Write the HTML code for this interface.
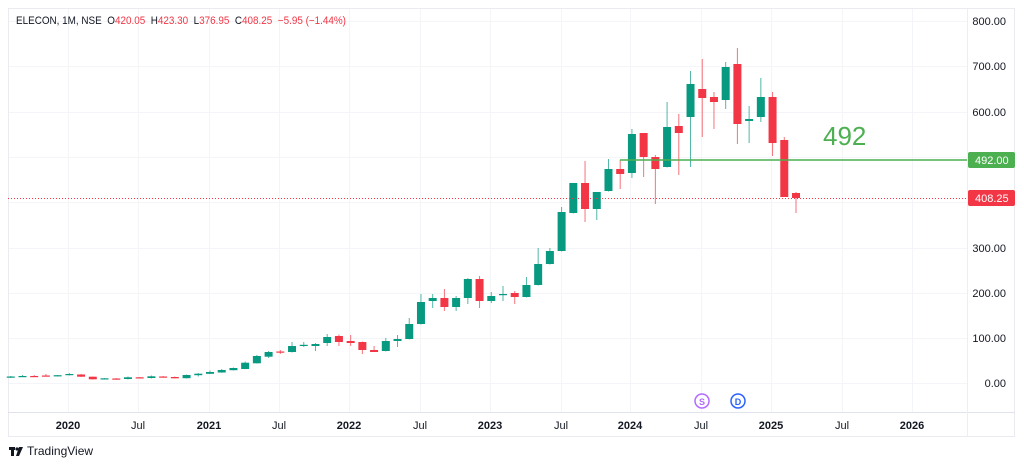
<!DOCTYPE html>
<html><head><meta charset="utf-8"><style>
body{margin:0;background:#fff;width:1024px;height:466px;overflow:hidden;font-family:"Liberation Sans",sans-serif}
</style></head><body>
<svg width="1024" height="466" xmlns="http://www.w3.org/2000/svg" font-family="Liberation Sans, sans-serif">
<g id="grid" stroke="#f3f5f9" stroke-width="1"></g>
<rect x="8.5" y="8.5" width="1006" height="428" fill="none" stroke="#e9ebf0"/>
<line x1="8" y1="412.5" x2="1015" y2="412.5" stroke="#e0e3eb"/>
<line x1="967.5" y1="8" x2="967.5" y2="437" stroke="#eceef2"/>
<g id="c"></g>
<line x1="8" y1="198.5" x2="967" y2="198.5" stroke="#f23645" stroke-width="1" stroke-dasharray="1,2"/>
<line x1="620" y1="160" x2="967" y2="160" stroke="#4caf50" stroke-width="1.5"/>
<text x="823" y="145" font-size="26" fill="#4caf50">492</text>
<g font-size="11" fill="#131722" id="pl"></g>
<rect x="968" y="152" width="47" height="16" rx="2" fill="#4caf50"/>
<text x="975" y="164" font-size="11" fill="#fff">492.00</text>
<rect x="968" y="190" width="47" height="16" rx="2" fill="#f23645"/>
<text x="975" y="202" font-size="11" fill="#fff">408.25</text>
<g font-size="11" fill="#131722" text-anchor="middle">
<text x="68" y="429" font-weight="bold">2020</text><text x="138" y="429">Jul</text>
<text x="209" y="429" font-weight="bold">2021</text><text x="279" y="429">Jul</text>
<text x="349" y="429" font-weight="bold">2022</text><text x="420" y="429">Jul</text>
<text x="490" y="429" font-weight="bold">2023</text><text x="561" y="429">Jul</text>
<text x="630" y="429" font-weight="bold">2024</text><text x="701" y="429">Jul</text>
<text x="771" y="429" font-weight="bold">2025</text><text x="842" y="429">Jul</text>
<text x="912" y="429" font-weight="bold">2026</text>
</g>
<circle cx="702" cy="401" r="7" fill="#fff" stroke="#b36bff" stroke-width="1.5"/>
<text x="702" y="405" font-size="9" fill="#b36bff" text-anchor="middle" font-weight="bold">S</text>
<circle cx="738" cy="401" r="7" fill="#fff" stroke="#2962ff" stroke-width="1.5"/>
<text x="738" y="405" font-size="9" fill="#2962ff" text-anchor="middle" font-weight="bold">D</text>
<text x="16" y="24" font-size="11" fill="#131722" xml:space="preserve" textLength="330" lengthAdjust="spacingAndGlyphs">ELECON, 1M, NSE  O<tspan fill="#f23645">420.05</tspan>  H<tspan fill="#f23645">423.30</tspan>  L<tspan fill="#f23645">376.95</tspan>  C<tspan fill="#f23645">408.25  −5.95 (−1.44%)</tspan></text>
<g fill="#131722"><rect x="9" y="447" width="6" height="3"/><rect x="11" y="447" width="3" height="9"/><circle cx="17" cy="449" r="1.6"/><polygon points="19,447 23,447 19,456 16,456"/></g>
<text x="27" y="455" font-size="12" fill="#131722">TradingView</text>
</svg>
<script>
var d=[[377,376,378,376.5],[376.5,375,377,376],[376,375,377,376.3],[375.5,374,376.5,375.8],[375.8,375,376.5,375.2],[375,373,375.5,374],[374.5,374,377,376.7],[376.7,376.5,379.5,379.3],[379,378,379.5,378.3],[378.5,378,379.5,379.2],[379,376.5,379.5,377.3],[377.3,377,378.5,378.2],[378,375.5,378.5,376.3],[376.5,376,377.5,377],[377,376.5,378.5,378.3],[378.2,374.5,378.5,375],[375.2,373,376.5,373.7],[373.8,370.5,374,372],[372.5,369,372.8,370],[370.2,367.5,370.5,368],[369,361.5,369.2,362.7],[363.3,355,363.5,356],[356.7,351,358,352],[351.5,350,354,352.3],[352,342,352.5,346],
[345.5,342,347,344.8],[346,343,351,344],[343,334,346,337],[336,334.5,346,342],[341,335,346,343],[342,341.5,354,350],[350,346,352,352],[351,338,351.5,341],[341,335,347,339],[339,318,339.5,324],[324,294,324.5,302],[301,294,308,298],[298,289,311,307],[307,296,311,298],[298,278,304,279],[279,276,308,301],[301,292,303,296],[295,286,301,294],[293,291,304,297],[297,277,297.5,285],[285,248,285.5,264],[264,248,264.5,251],
[251,207,251.5,212],[213,183,213.5,183],[183,161,222,209],[209,192,220,192],[191,159,191.5,169],[169,160,189,174],[173,129,178,134],[133,133,177,157],[157,155,204,169],[167,102,167.5,127],[126,114,175,133],[117,71,167,84],[89,59,137,98],[97,92,129,102],[100,62,109,67],[64,48,144,124],[121,106,143,119],[117,78,122,97],[97,92,156,143],[140,137,197,197],[193,192,213,198]];
var s='',n=d.length;
d.forEach(function(v,i){var x=796-11.72*(n-1-i);var up=v[3]<=v[0];var col=up?'#089981':'#f23645';var t=Math.min(v[0],v[3]),b=Math.max(v[0],v[3]);
s+='<line x1="'+x+'" x2="'+x+'" y1="'+v[1]+'" y2="'+v[2]+'" stroke="'+col+'" stroke-opacity="0.7" stroke-width="1"/>';
s+='<rect x="'+(x-4)+'" y="'+t+'" width="8" height="'+Math.max(b-t,1.2)+'" fill="'+col+'"/>';});
document.getElementById('c').innerHTML=s;
var g='';[21,66,112,157,202,248,293,338,383].forEach(function(y){g+='<line x1="8" x2="967" y1="'+(y+.5)+'" y2="'+(y+.5)+'"/>';});
[68,138,209,279,349,420,490,561,630,701,771,842,912].forEach(function(x){g+='<line y1="8" y2="412" x1="'+(x+.5)+'" x2="'+(x+.5)+'"/>';});
document.getElementById('grid').innerHTML=g;
var p='';[['800.00',21],['700.00',66],['600.00',112],['300.00',248],['200.00',293],['100.00',338],['0.00',383]].forEach(function(a){p+='<text x="1006" text-anchor="end" y="'+(a[1]+4)+'">'+a[0]+'</text>';});
document.getElementById('pl').innerHTML=p;
</script>
</body></html>
